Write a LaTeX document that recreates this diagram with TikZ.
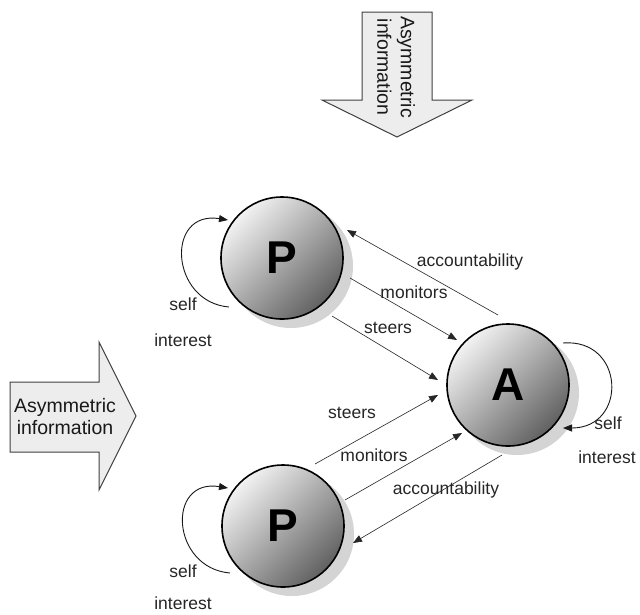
\documentclass[tikz,border=0pt]{standalone}
\usepackage{fontspec}
\setmainfont{Liberation Sans}
\usetikzlibrary{calc,arrows.meta}
\begin{document}
\begin{tikzpicture}[x=1pt,y=-1pt,
  agent/.style={circle, draw=black, line width=1.6pt, minimum size=122pt, inner sep=0pt,
    top color=black!5, bottom color=black!62, shading angle=45,
    font=\fontsize{46}{46}\selectfont\bfseries},
  shadowc/.style={circle, fill=black!17, minimum size=124pt, inner sep=0pt},
  lbl/.style={font=\fontsize{17.5}{20}\selectfont, text=black!85, inner sep=0pt},
  conn/.style={line width=0.6pt, draw=black!85, -{Triangle[length=9pt,width=7pt]}},
  selfloop/.style={line width=0.9pt, draw=black!90, -{Triangle[length=9pt,width=7pt]}},
  bigarrow/.style={draw=black!75, line width=1pt, fill=black!7, line join=miter},
  atext/.style={align=center, inner sep=0pt, text=black!90}
]
\useasboundingbox[fill=white] (0,0) rectangle (640,614);

% big arrows
\draw[bigarrow] (362,12) -- (432,12) -- (432,100) -- (472,100) -- (397,137) -- (322,100) -- (362,100) -- cycle;
\node[atext, rotate=-90, font=\fontsize{19.5}{23.5}\selectfont] (topinfo) at (396,67) {Asymmetric\\information};
\draw[bigarrow] (10,382) -- (99,382) -- (99,342) -- (136,416) -- (99,490) -- (99,452) -- (10,452) -- cycle;
\node[atext, font=\fontsize{19.5}{22}\selectfont] (leftinfo) at (65,417) {Asymmetric\\information};

% shadows
\node[shadowc] (P1s) at (291,266) {};
\node[shadowc] (As) at (517,393) {};
\node[shadowc] (P2s) at (292,534) {};

% agents
\node[agent] (P1) at (282,258) {P};
\node[agent] (A) at (508,385) {A};
\node[agent] (P2) at (283,526) {P};

% connectors
\draw[conn] ($(A)+(-10,-70)$) -- ($(P1)+(65,-28)$);
\draw[conn] ($(P1)+(68,20)$) -- ($(A)+(-51,-45)$);
\draw[conn] ($(P1)+(50,58)$) -- ($(A)+(-70,-5)$);
\draw[conn] ($(P2)+(32,-62)$) -- ($(A)+(-70,10)$);
\draw[conn] ($(P2)+(62,-26)$) -- ($(A)+(-46,48)$);
\draw[conn] ($(A)+(-6,70)$) -- ($(P2)+(70,17)$);

% labels
\node[lbl] (acc1) at (470,262) {accountability};
\node[lbl] (mon1) at (414,292) {monitors};
\node[lbl] (st1) at (388,328) {steers};
\node[lbl] (st2) at (352,413) {steers};
\node[lbl] (mon2) at (374,455) {monitors};
\node[lbl] (acc2) at (446,490) {accountability};

% self loops
\draw[selfloop] ($(P1)+(-53,49)$) .. controls ($(P1)+(-112,44)$) and ($(P1)+(-117,-48)$) .. ($(P1)+(-54,-38)$);
\draw[selfloop] ($(P2)+(-53,47)$) .. controls ($(P2)+(-112,42)$) and ($(P2)+(-117,-48)$) .. ($(P2)+(-55,-38)$);
\draw[selfloop] ($(A)+(55,-42)$) .. controls ($(A)+(117,-47)$) and ($(A)+(120,43)$) .. ($(A)+(55,43)$);

\node[lbl] (self1) at (183,304) {self};
\node[lbl] (int1) at (183,340) {interest};
\node[lbl] (selfA) at (608,423) {self};
\node[lbl] (intA) at (607,457) {interest};
\node[lbl] (self2) at (183,571) {self};
\node[lbl] (int2) at (183,603) {interest};
\end{tikzpicture}
\end{document}
